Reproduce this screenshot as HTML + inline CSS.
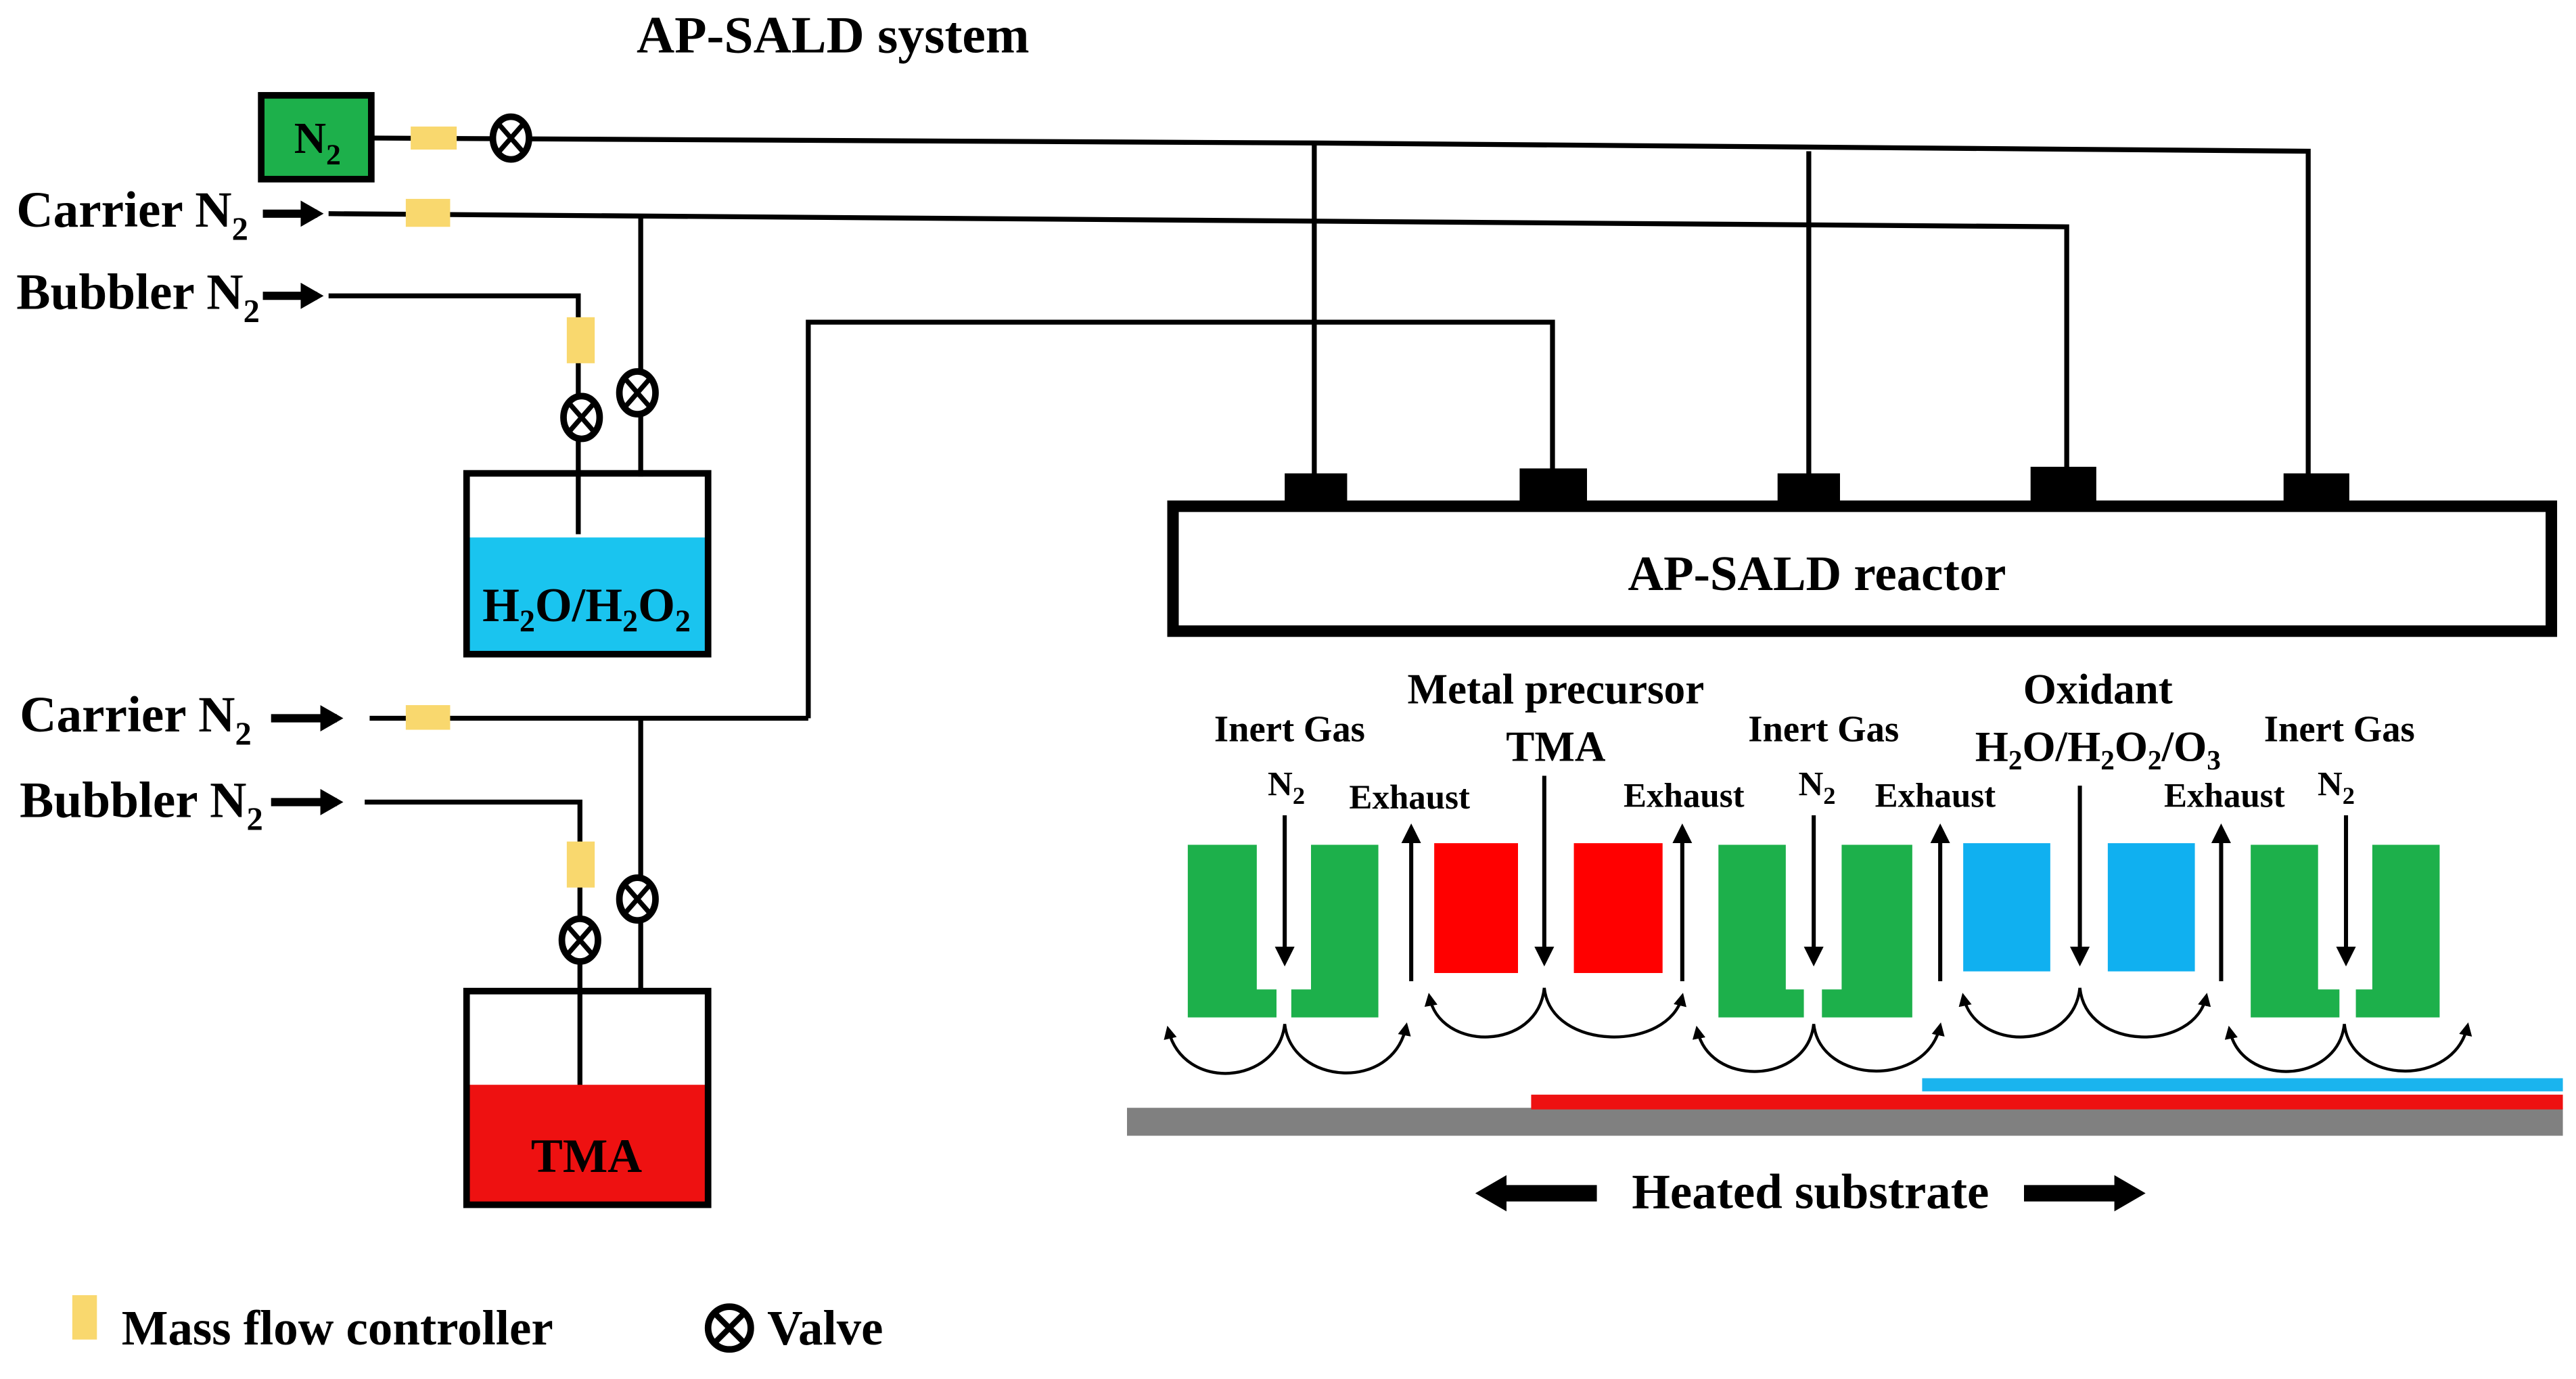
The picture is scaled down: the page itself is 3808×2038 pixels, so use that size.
<!DOCTYPE html>
<html><head><meta charset="utf-8"><style>
html,body{margin:0;padding:0;background:#fff;width:3808px;height:2038px;overflow:hidden}
svg{display:block}
text{font-family:"Liberation Serif",serif;font-weight:bold;fill:#000}
</style></head><body>
<svg width="3808" height="2038" viewBox="0 0 1568 839" preserveAspectRatio="none" xmlns="http://www.w3.org/2000/svg">
<defs>
<marker id="ah" markerWidth="8" markerHeight="8" refX="6" refY="4" orient="auto" markerUnits="userSpaceOnUse"><path d="M0,0 L8,4 L0,8 Z" fill="#000"/></marker>
<marker id="ah2" markerWidth="12" markerHeight="12" refX="9" refY="6" orient="auto" markerUnits="userSpaceOnUse"><path d="M0,0 L12,6 L0,12 Z" fill="#000"/></marker>
<marker id="ah3" markerWidth="14" markerHeight="16" refX="10" refY="8" orient="auto" markerUnits="userSpaceOnUse"><path d="M0,0 L14,8 L0,16 Z" fill="#000"/></marker>
<g id="valve"><ellipse rx="11" ry="13" fill="#fff" stroke="#000" stroke-width="4"/><path d="M-7,-8 L7,8 M7,-8 L-7,8" stroke="#000" stroke-width="3"/></g>
</defs>
<text x="507" y="32" font-size="32" text-anchor="middle">AP-SALD system</text>

<!-- N2 source -->
<rect x="159" y="58" width="67" height="51" fill="#1db04b" stroke="#000" stroke-width="4"/>
<text x="179" y="93" font-size="27">N<tspan font-size="18" dy="7">2</tspan></text>
<g stroke="#000" stroke-width="3" fill="none">
<path d="M226,84 L800,87 L1405,92 L1405,290"/>
<path d="M800,87 L800,290"/>
<path d="M1101,92 L1101,290"/>
<path d="M200,130 L1258,138 L1258,285"/>
<path d="M390,131 L390,290"/>
<path d="M200,180 L352,180 L352,325"/>
<path d="M492,437 L492,196 L945,196 L945,287"/>
<path d="M225,437 L492,437"/>
<path d="M390,437 L390,603"/>
<path d="M222,488 L353,488 L353,690"/>
</g>
<rect x="250" y="77" width="28" height="14" fill="#f9d86e"/>
<use href="#valve" x="311" y="84"/>
<rect x="247" y="121" width="27" height="17" fill="#f9d86e"/>
<rect x="345" y="193" width="17" height="28" fill="#f9d86e"/>
<use href="#valve" x="354" y="254"/>
<use href="#valve" x="388" y="239"/>
<rect x="247" y="429" width="27" height="15" fill="#f9d86e"/>
<rect x="345" y="512" width="17" height="28" fill="#f9d86e"/>
<use href="#valve" x="353" y="572"/>
<use href="#valve" x="388" y="547"/>

<!-- labels -->
<text x="10" y="138" font-size="31">Carrier N<tspan font-size="20" dy="8">2</tspan></text>
<text x="10" y="188" font-size="31">Bubbler N<tspan font-size="20" dy="8">2</tspan></text>
<text x="12" y="445" font-size="31">Carrier N<tspan font-size="20" dy="8">2</tspan></text>
<text x="12" y="497" font-size="31">Bubbler N<tspan font-size="20" dy="8">2</tspan></text>
<g stroke="#000" stroke-width="5">
<line x1="160" y1="130" x2="193" y2="130" marker-end="url(#ah3)"/>
<line x1="160" y1="180" x2="193" y2="180" marker-end="url(#ah3)"/>
<line x1="165" y1="437" x2="205" y2="437" marker-end="url(#ah3)"/>
<line x1="165" y1="488" x2="205" y2="488" marker-end="url(#ah3)"/>
</g>

<!-- H2O box -->
<rect x="285" y="327" width="145" height="70" fill="#1ac4ef"/>
<rect x="284" y="288" width="147" height="110" fill="none" stroke="#000" stroke-width="4"/>
<text x="357" y="378" font-size="29" text-anchor="middle">H<tspan font-size="19" dy="6">2</tspan><tspan dy="-6">O/H</tspan><tspan font-size="19" dy="6">2</tspan><tspan dy="-6">O</tspan><tspan font-size="19" dy="6">2</tspan></text>
<!-- TMA box -->
<rect x="285" y="660" width="145" height="72" fill="#ee1111"/>
<rect x="284" y="603" width="147" height="130" fill="none" stroke="#000" stroke-width="4"/>
<text x="357" y="713" font-size="29" text-anchor="middle">TMA</text>

<!-- reactor -->
<rect x="714" y="308" width="839" height="76" fill="#fff" stroke="#000" stroke-width="7"/>
<rect x="782" y="288" width="38" height="18" fill="#000"/>
<rect x="925" y="285" width="41" height="21" fill="#000"/>
<rect x="1082" y="288" width="38" height="18" fill="#000"/>
<rect x="1236" y="284" width="40" height="22" fill="#000"/>
<rect x="1390" y="288" width="40" height="18" fill="#000"/>
<text x="1106" y="359" font-size="30" text-anchor="middle">AP-SALD reactor</text>

<!-- heads -->
<g fill="#1db04b">
<path d="M723,514 H765 V602 H777 V619 H723 Z"/><path d="M798,514 H839 V619 H786 V602 H798 Z"/>
<path d="M1046,514 H1087 V602 H1098 V619 H1046 Z"/><path d="M1121,514 H1164 V619 H1109 V602 H1121 Z"/>
<path d="M1370,514 H1411 V602 H1424 V619 H1370 Z"/><path d="M1444,514 H1485 V619 H1434 V602 H1444 Z"/>
</g>
<rect x="873" y="513" width="51" height="79" fill="#f00"/>
<rect x="958" y="513" width="54" height="79" fill="#f00"/>
<rect x="1195" y="513" width="53" height="78" fill="#10b0f0"/>
<rect x="1283" y="513" width="53" height="78" fill="#10b0f0"/>

<g stroke="#000" stroke-width="2.5" fill="none">
<line x1="782" y1="496" x2="782" y2="585" marker-end="url(#ah2)"/>
<line x1="940" y1="472" x2="940" y2="585" marker-end="url(#ah2)"/>
<line x1="1104" y1="496" x2="1104" y2="585" marker-end="url(#ah2)"/>
<line x1="1266" y1="478" x2="1266" y2="585" marker-end="url(#ah2)"/>
<line x1="1428" y1="496" x2="1428" y2="585" marker-end="url(#ah2)"/>
<line x1="859" y1="597" x2="859" y2="504" marker-end="url(#ah2)"/>
<line x1="1024" y1="597" x2="1024" y2="504" marker-end="url(#ah2)"/>
<line x1="1181" y1="597" x2="1181" y2="504" marker-end="url(#ah2)"/>
<line x1="1352" y1="597" x2="1352" y2="504" marker-end="url(#ah2)"/>
</g>
<g stroke="#000" stroke-width="1.8" fill="none">
<path d="M782,623 C778,660 720,665 711,626" marker-end="url(#ah)"/>
<path d="M782,623 C786,660 848,665 856,624" marker-end="url(#ah)"/>
<path d="M940,601 C936,640 876,640 870,606" marker-end="url(#ah)"/>
<path d="M940,601 C944,640 1016,640 1024,606" marker-end="url(#ah)"/>
<path d="M1104,623 C1100,660 1040,662 1033,626" marker-end="url(#ah)"/>
<path d="M1104,623 C1108,660 1173,662 1181,624" marker-end="url(#ah)"/>
<path d="M1266,601 C1262,640 1202,640 1195,606" marker-end="url(#ah)"/>
<path d="M1266,601 C1270,640 1336,640 1343,606" marker-end="url(#ah)"/>
<path d="M1427,623 C1423,660 1364,662 1357,626" marker-end="url(#ah)"/>
<path d="M1427,623 C1431,660 1494,662 1502,624" marker-end="url(#ah)"/>
</g>

<g font-size="22.5" text-anchor="middle">
<text x="785" y="451">Inert Gas</text>
<text x="783" y="484" font-size="21">N<tspan font-size="15" dy="5">2</tspan></text>
<text x="947" y="428" font-size="26">Metal precursor</text>
<text x="947" y="463" font-size="26">TMA</text>
<text x="858" y="492" font-size="21">Exhaust</text>
<text x="1025" y="491" font-size="21">Exhaust</text>
<text x="1110" y="451">Inert Gas</text>
<text x="1106" y="484" font-size="21">N<tspan font-size="15" dy="5">2</tspan></text>
<text x="1178" y="491" font-size="21">Exhaust</text>
<text x="1277" y="428" font-size="26">Oxidant</text>
<text x="1277" y="463" font-size="26">H<tspan font-size="17" dy="5">2</tspan><tspan dy="-5">O/H</tspan><tspan font-size="17" dy="5">2</tspan><tspan dy="-5">O</tspan><tspan font-size="17" dy="5">2</tspan><tspan dy="-5">/O</tspan><tspan font-size="17" dy="5">3</tspan></text>
<text x="1354" y="491" font-size="21">Exhaust</text>
<text x="1424" y="451">Inert Gas</text>
<text x="1422" y="484" font-size="21">N<tspan font-size="15" dy="5">2</tspan></text>
</g>

<!-- substrate -->
<rect x="686" y="674" width="874" height="17" fill="#808080"/>
<rect x="932" y="666" width="628" height="9" fill="#ee1111"/>
<rect x="1170" y="656" width="390" height="8" fill="#1ab4ee"/>
<text x="1102" y="735" font-size="30" text-anchor="middle">Heated substrate</text>
<path d="M972,721 H917 V715 L898,726 L917,737 V731 H972 Z" fill="#000"/>
<path d="M1232,721 H1287 V715 L1306,726 L1287,737 V731 H1232 Z" fill="#000"/>

<!-- legend -->
<rect x="44" y="788" width="15" height="27" fill="#f9d86e"/>
<text x="74" y="818" font-size="30">Mass flow controller</text>
<circle cx="444" cy="808" r="13" fill="#fff" stroke="#000" stroke-width="4"/>
<path d="M436,800 L452,816 M452,800 L436,816" stroke="#000" stroke-width="3.5"/>
<text x="467" y="818" font-size="30">Valve</text>
</svg>
</body></html>
